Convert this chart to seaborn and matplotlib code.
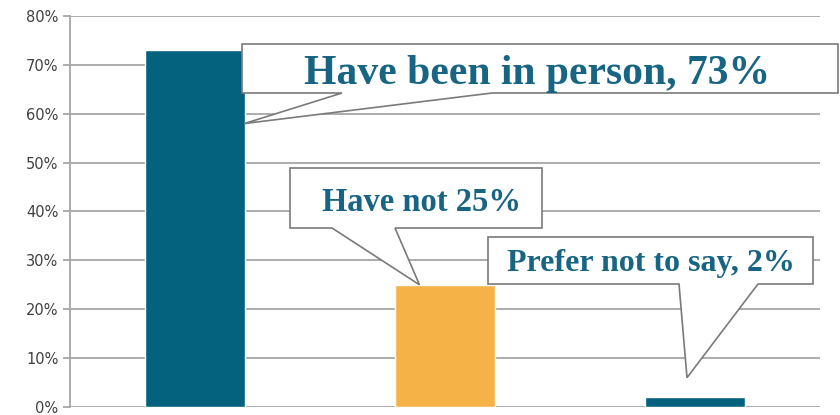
"""Bar chart with callout labels: in-person attendance share."""

import matplotlib.pyplot as plt
import numpy as np
import seaborn as sns
from matplotlib.patches import Polygon
from matplotlib.ticker import PercentFormatter

# data
categories = ["Have been in person", "Have not", "Prefer not to say"]
values = [73, 25, 2]
callout_texts = ["Have been in person, 73%", "Have not 25%", "Prefer not to say, 2%"]

BAR_COLORS = ["#05627f", "#f4b247", "#05627f"]
TEXT_COLOR = "#176583"
EDGE_GREY = "#7a7a7a"
GRID_GREY = "#a6a6a6"

W, H = 840, 415

# callout layout in pixels from top-left: box (left, top, right, bottom),
# wedge base x positions, tip as (bar index offset, value) in data units
CALLOUT_BOXES = [(242, 44, 838, 93), (290, 168, 542, 228), (488, 237, 813, 284)]
CALLOUT_BASES = [(342, 492), (332, 395), (679, 758)]
CALLOUT_TIPS = [(0.2, 58), (-0.1, 25), (-0.03, 6)]
CALLOUT_SIZES = [30, 23.5, 23]
CALLOUT_TEXT_POS = [(537, 84), (421, 211), (651, 271)]


def px(x, y):
    """Pixel (from top-left) to figure fraction."""
    return x / W, 1 - y / H


def main() -> None:
    sns.set_style("white")
    plt.rcParams["font.family"] = ["DejaVu Sans"]

    fig = plt.figure(figsize=(W / 100, H / 100), dpi=100)
    left, bottom = px(69.5, 407)
    right, top = px(819.5, 16)
    ax = fig.add_axes([left, bottom, right - left, top - bottom])

    sns.barplot(
        x=categories,
        y=values,
        hue=categories,
        palette=BAR_COLORS,
        width=0.4,
        legend=False,
        saturation=1,
        ax=ax,
        zorder=3,
    )
    ax.set_xlim(-0.5, 2.5)
    ax.set_ylim(0, 80)
    ax.set_yticks(np.arange(0, 81, 10))
    ax.yaxis.set_major_formatter(PercentFormatter(decimals=0))
    ax.set_xticks([])
    ax.set_xlabel("")
    ax.set_ylabel("")
    ax.grid(axis="y", color=GRID_GREY, linewidth=1.3, zorder=0)
    for side in ["top", "right", "bottom"]:
        ax.spines[side].set_visible(False)
    ax.spines["left"].set_color(GRID_GREY)
    ax.spines["left"].set_linewidth(1.3)
    ax.tick_params(
        axis="y", length=5, width=1.3, color=GRID_GREY,
        labelsize=10.5, labelcolor="#404040", left=True, pad=3,
    )

    fig.canvas.draw()
    to_fig = ax.transData + fig.transFigure.inverted()

    for i, text in enumerate(callout_texts):
        bl, bt, br, bb = CALLOUT_BOXES[i]
        b1, b2 = CALLOUT_BASES[i]
        dx, ty = CALLOUT_TIPS[i]
        tip = to_fig.transform((i + dx, ty))
        pts = [
            px(bl, bt), px(br, bt), px(br, bb), px(b2, bb),
            tuple(tip), px(b1, bb), px(bl, bb),
        ]
        poly = Polygon(
            pts, closed=True, facecolor="white", edgecolor=EDGE_GREY,
            linewidth=1.2, transform=fig.transFigure, zorder=5,
        )
        fig.add_artist(poly)
        cx, cy = px(*CALLOUT_TEXT_POS[i])
        fig.text(
            cx, cy, text, ha="center", va="baseline",
            fontsize=CALLOUT_SIZES[i], fontweight="bold",
            family=["Liberation Serif"], color=TEXT_COLOR, zorder=6,
        )

    fig.savefig("out.png", dpi=100)
    plt.close(fig)


if __name__ == "__main__":
    main()
